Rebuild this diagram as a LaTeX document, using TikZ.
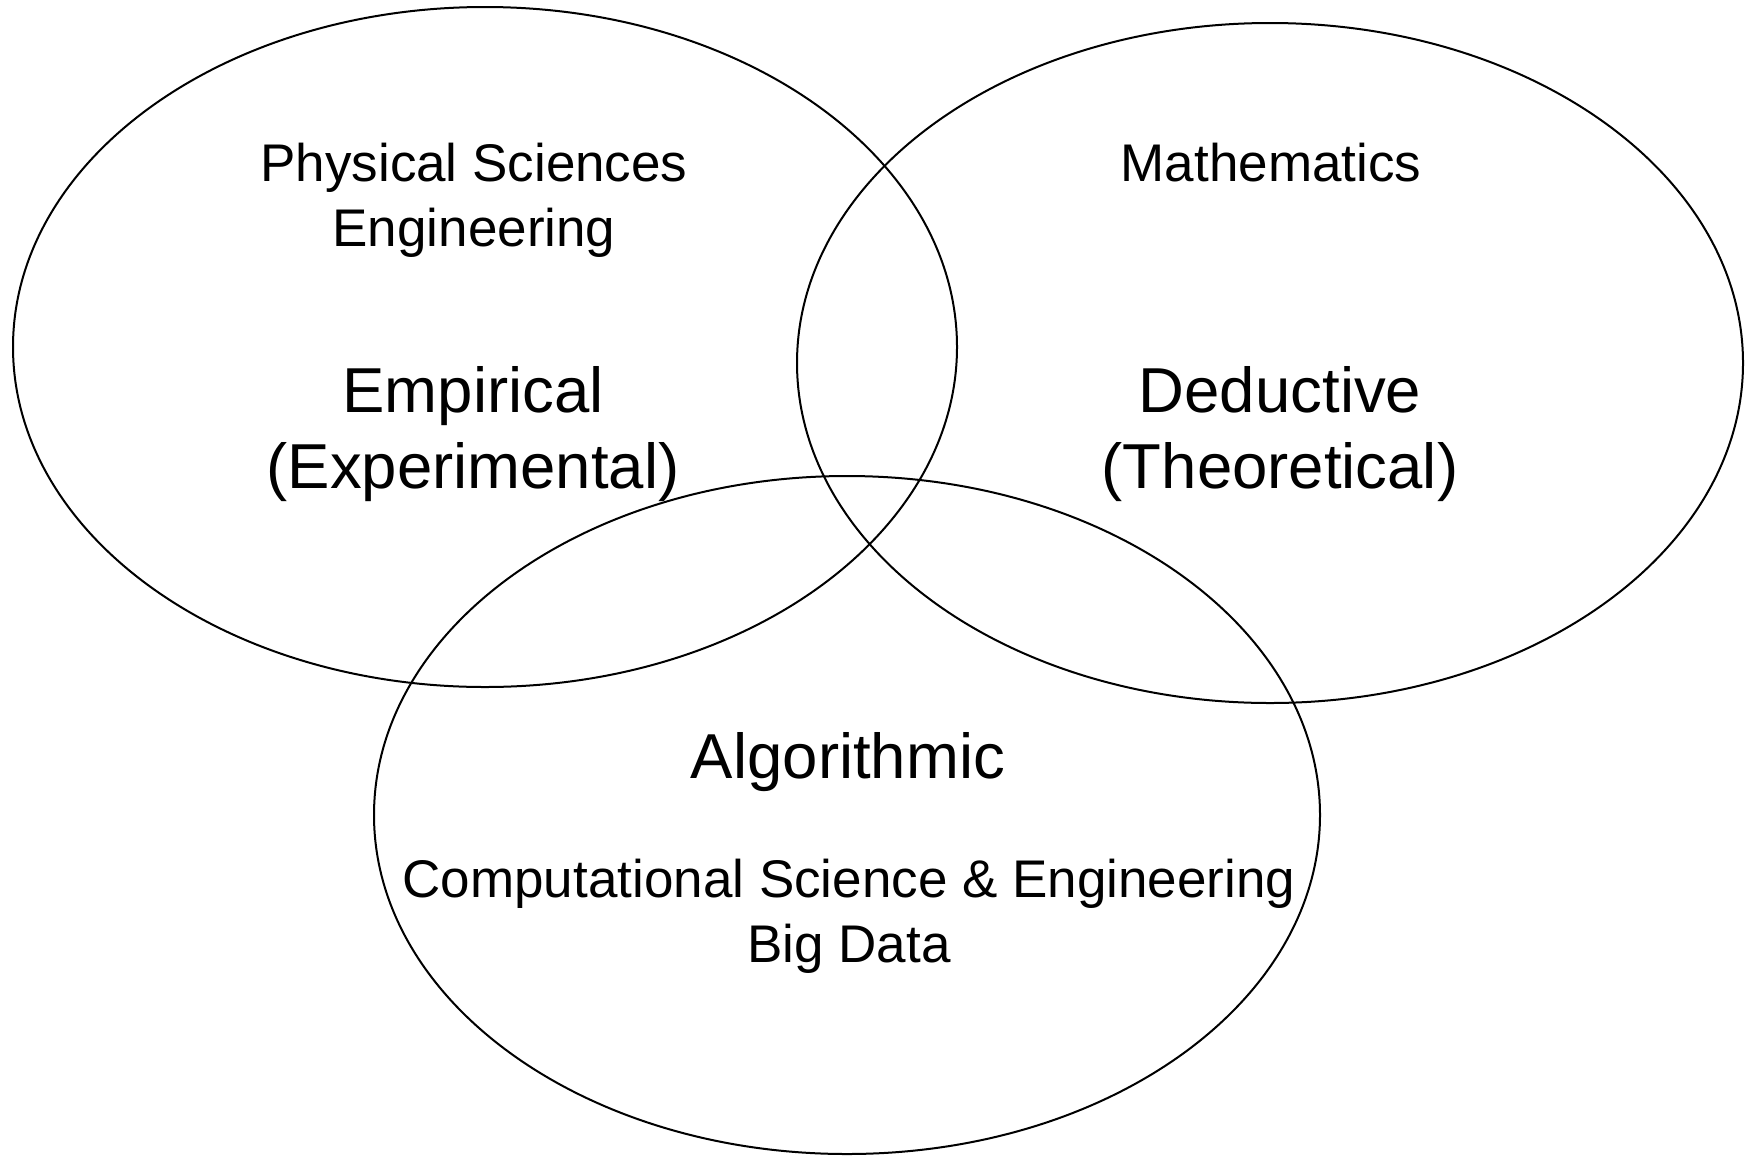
\documentclass[tikz,border=0pt]{standalone}
\usepackage{fontspec}
\setmainfont{Liberation Sans}
\begin{document}
\begin{tikzpicture}[x=0.5pt,y=-0.5pt,
  ring/.style={draw=black,line width=1pt},
  small/.style={align=center,inner sep=0pt,font=\fontsize{26.5}{32.5}\selectfont},
  big/.style={align=center,inner sep=0pt,font=\fontsize{31.75}{38}\selectfont}]
\useasboundingbox (0,0) rectangle (1749,1157);
\coordinate (cL) at (485,347);
\coordinate (cR) at (1270,363);
\coordinate (cB) at (847,815);
\draw[ring] (cL) ellipse [x radius=236pt, y radius=170pt];
\draw[ring] (cR) ellipse [x radius=236.5pt, y radius=170pt];
\draw[ring] (cB) ellipse [x radius=236.5pt, y radius=169.5pt];
\node[small] (phys) at (474,200) {Physical Sciences\\Engineering};
\node[big] (emp) at (473,434) {Empirical\\(Experimental)};
\node[small] (math) at (1271,163) {Mathematics};
\node[big] (ded) at (1280,434) {Deductive\\(Theoretical)};
\node[big] (alg) at (848,762) {Algorithmic};
\node[small] (cse) at (849,916) {Computational Science \& Engineering\\Big Data};
\end{tikzpicture}
\end{document}
